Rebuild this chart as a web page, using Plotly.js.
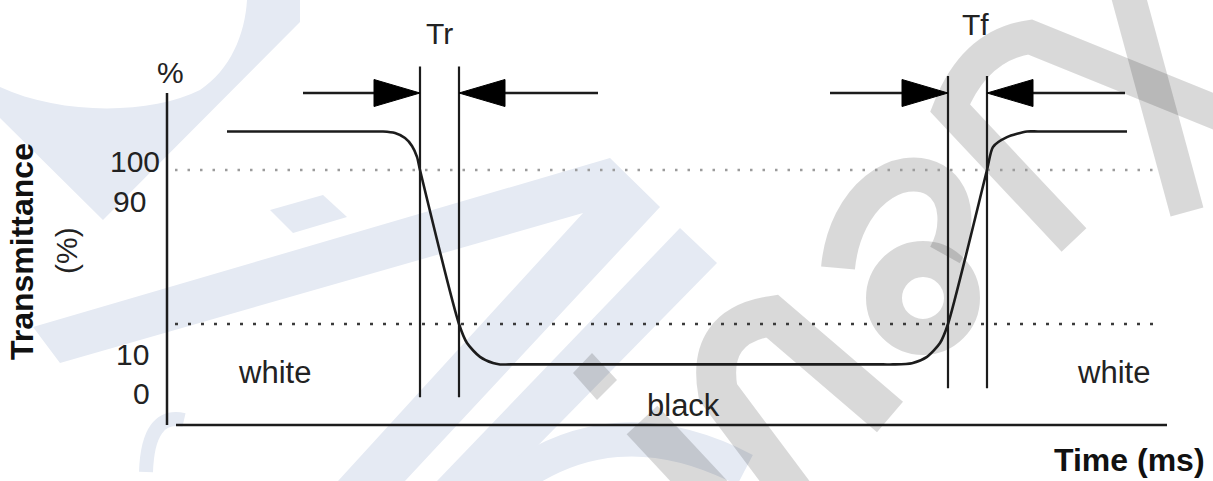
<!DOCTYPE html>
<html><head><meta charset="utf-8">
<script src="https://cdn.plot.ly/plotly-3.0.1.min.js"></script>
<style>html,body{margin:0;padding:0;background:#fff}#chart{width:1213px;height:481px}</style>
</head><body><div id="chart"></div>
<script>
// ---------------- data ----------------
// time axis is schematic (ms, arbitrary scale); transmittance in %
const timeMs = [5.1, 19.6, 20.7, 21.9, 22.9, 23.6, 24.1, 24.4, 28.3, 29.1, 30.4, 31.7, 32.4, 33.4,
                70.7, 71.7, 73.6, 75.1, 76.4, 77.2, 81.1, 81.7, 83.1, 85.1, 86.2, 95.1];
const transmittance = [110, 110, 110, 109.2, 106.6, 102.5, 96.8, 90, 10, 0.1, -7.1, -10.3, -11, -11,
                       -11, -11, -10.4, -7.1, 0.1, 10, 90, 102, 107.1, 110, 110, 110];
const thresholdLevels = [90, 10];
const thresholdSpan = [-0.1, 98.2];
const trEdges = [24.4, 28.3];          // Tr : 90% -> 10%
const tfEdges = [77.2, 81.1];          // Tf : 10% -> 90%
const markerTop = [143.7, 138.8];
const markerBottom = [-28.1, -23.4];
const arrowOuter = [12.7, 42.2, 65.4, 94.9];
const arrowLevel = 130;
const yTickLabels = ['100', '90', '10', '0'];
const stateLabels = ['white', 'black', 'white'];

// ---------------- layout helpers ----------------
const W = 1213, H = 481;
const XR = [-17.6, 103.7], YR = [-71.56, 178.31];
const pxPerX = W / (XR[1] - XR[0]), pxPerY = H / (YR[1] - YR[0]);
const fx = v => (v / W).toFixed(5), fy = v => (1 - v / H).toFixed(5);
function toPaper(d) {
  const toks = d.trim().split(/[\s,]+/); const out = []; let buf = [];
  for (const t of toks) {
    if (/^[A-Za-z]$/.test(t)) out.push(t);
    else { buf.push(parseFloat(t)); if (buf.length === 2) { out.push(fx(buf[0]) + ',' + fy(buf[1])); buf = []; } }
  }
  return out.join(' ');
}
const INK = '#1c1c1c';
const FONT = 'Liberation Sans, Arial, sans-serif';

// ---------------- watermark (background decoration) ----------------
const BLUE = '#e5eaf3', GRAY = 'rgba(0,0,0,0.15)';
const wmFill = (d, c) => ({type: 'path', xref: 'paper', yref: 'paper', layer: 'below',
  path: toPaper(d), fillcolor: c, line: {width: 0}});
const wmStroke = (d, c, w) => ({type: 'path', xref: 'paper', yref: 'paper', layer: 'below',
  path: toPaper(d), fillcolor: 'rgba(0,0,0,0)', line: {color: c, width: w}});
const shapes = [
  wmFill('M 0 87 C 60 115 150 115 200 90 C 230 70 245 35 247 0 L 300 0 L 300 22 L 103 220 L 0 118 Z', BLUE),
  wmFill('M 270 210 L 323 195 L 347 217 L 293 233 Z', BLUE),
  wmFill('M 33 327 L 610 158 L 660 207 L 405 481 L 338 481 L 583 213 L 60 363 Z', BLUE),
  wmFill('M 680 228 L 717 263 L 503 481 L 437 481 Z', BLUE),
  wmStroke('M 500 490 Q 610 400 745 470', BLUE, 34),
  wmStroke('M 146 472 Q 148 412 184 420', BLUE, 14),
  // gray letters
  wmFill('M 573 373 L 592 353 L 617 380 L 597 400 Z', GRAY),
  wmStroke('M 642 420 L 712 495', GRAY, 42),
  wmStroke('M 795 495 L 718 392 Q 706 326 772 316 L 890 417', GRAY, 40),
  wmStroke('M 838 268 C 845 195 900 160 935 180 C 960 195 958 232 945 255', GRAY, 34),
  {type: 'circle', xref: 'paper', yref: 'paper', layer: 'below',
   x0: fx(884), x1: fx(962), y0: fy(337), y1: fy(259), line: {color: GRAY, width: 36}},
  wmStroke('M 1074 240 L 950 108 Q 975 45 1030 37 L 1230 118', GRAY, 34),
  wmStroke('M 1128 -5 L 1187 212', GRAY, 34),
  // axes of the diagram
  {type: 'line', xref: 'x', yref: 'y', x0: -0.9, x1: -0.9, y0: -42.5, y1: 130, line: {color: INK, width: 2.5}},
  {type: 'line', xref: 'x', yref: 'y', x0: 0, x1: 99.1, y0: -42.5, y1: -42.5, line: {color: INK, width: 2.5}}
];

// ---------------- traces ----------------
const traces = [];
// threshold dotted lines
traces.push({x: thresholdSpan, y: [thresholdLevels[0], thresholdLevels[0]], mode: 'lines',
  line: {color: '#9c9c9c', width: 2.5, dash: '2.5px,10px'}, hoverinfo: 'skip'});
traces.push({x: thresholdSpan, y: [thresholdLevels[1], thresholdLevels[1]], mode: 'lines',
  line: {color: '#3a3a3a', width: 2.5, dash: '3px,10px'}, hoverinfo: 'skip'});
// edge markers (vertical lines)
[[trEdges, 0], [tfEdges, 1]].forEach(([edges, k]) => {
  edges.forEach(e => traces.push({x: [e, e], y: [markerBottom[k], markerTop[k]], mode: 'lines',
    line: {color: INK, width: 2.2}, hoverinfo: 'skip'}));
});
// arrows pointing at the edges
const headLen = 46 / pxPerX, headHalf = 13.5 / pxPerY;
const arrows = [[arrowOuter[0], trEdges[0], 1], [arrowOuter[1], trEdges[1], -1],
                [arrowOuter[2], tfEdges[0], 1], [arrowOuter[3], tfEdges[1], -1]];
arrows.forEach(([outer, tip, dir]) => {
  const base = tip - dir * headLen;
  traces.push({x: [outer, base], y: [arrowLevel, arrowLevel], mode: 'lines',
    line: {color: INK, width: 2.5}, hoverinfo: 'skip'});
  traces.push({x: [base, tip, base, base], y: [arrowLevel + headHalf, arrowLevel, arrowLevel - headHalf, arrowLevel + headHalf],
    mode: 'lines', fill: 'toself', fillcolor: '#000', line: {color: '#000', width: 1}, hoverinfo: 'skip'});
});
// transmittance response curve
traces.push({x: timeMs, y: transmittance, mode: 'lines',
  line: {color: INK, width: 2.6, shape: 'spline', smoothing: 0.7}, hoverinfo: 'skip'});

// ---------------- annotations ----------------
const txt = (text, cx, cy, opt = {}) => Object.assign({
  text, xref: 'paper', yref: 'paper', x: +fx(cx), y: +fy(cy), showarrow: false,
  xanchor: 'center', yanchor: 'middle', font: {family: FONT, size: 30, color: '#222'}}, opt);
const big = {family: FONT, size: 31, color: '#222'};
const annotations = [
  txt('%', 170, 72),
  Object.assign(txt('Tr', 0, 33), {xref: 'x', x: (trEdges[0] + trEdges[1]) / 2}),
  Object.assign(txt('Tf', 0, 24), {xref: 'x', x: (tfEdges[0] + tfEdges[1]) / 2, xshift: 8}),
  txt(yTickLabels[0], 162, 161, {xanchor: 'right'}),
  txt(yTickLabels[1], 111, 201, {xanchor: 'left'}),
  txt(yTickLabels[2], 114, 354, {xanchor: 'left'}),
  txt(yTickLabels[3], 131, 393, {xanchor: 'left'}),
  txt(stateLabels[0], 275, 372, {font: big}),
  txt(stateLabels[1], 684, 405, {font: big}),
  txt(stateLabels[2], 1113, 372, {font: big}),
  txt('<b>Time (ms)</b>', 1130, 460, {font: {family: FONT, size: 32, color: '#111'}}),
  txt('<b>Transmittance</b>', 22, 252, {textangle: -90, font: {family: FONT, size: 32, color: '#111'}}),
  txt('(%)', 67, 250, {textangle: -90})
];

const layout = {
  width: W, height: H, margin: {l: 0, r: 0, t: 0, b: 0},
  paper_bgcolor: '#fff', plot_bgcolor: 'rgba(0,0,0,0)', showlegend: false,
  xaxis: {range: XR, visible: false, fixedrange: true},
  yaxis: {range: YR, visible: false, fixedrange: true},
  shapes, annotations
};
Plotly.newPlot('chart', traces, layout, {staticPlot: true, displayModeBar: false});
</script></body></html>
